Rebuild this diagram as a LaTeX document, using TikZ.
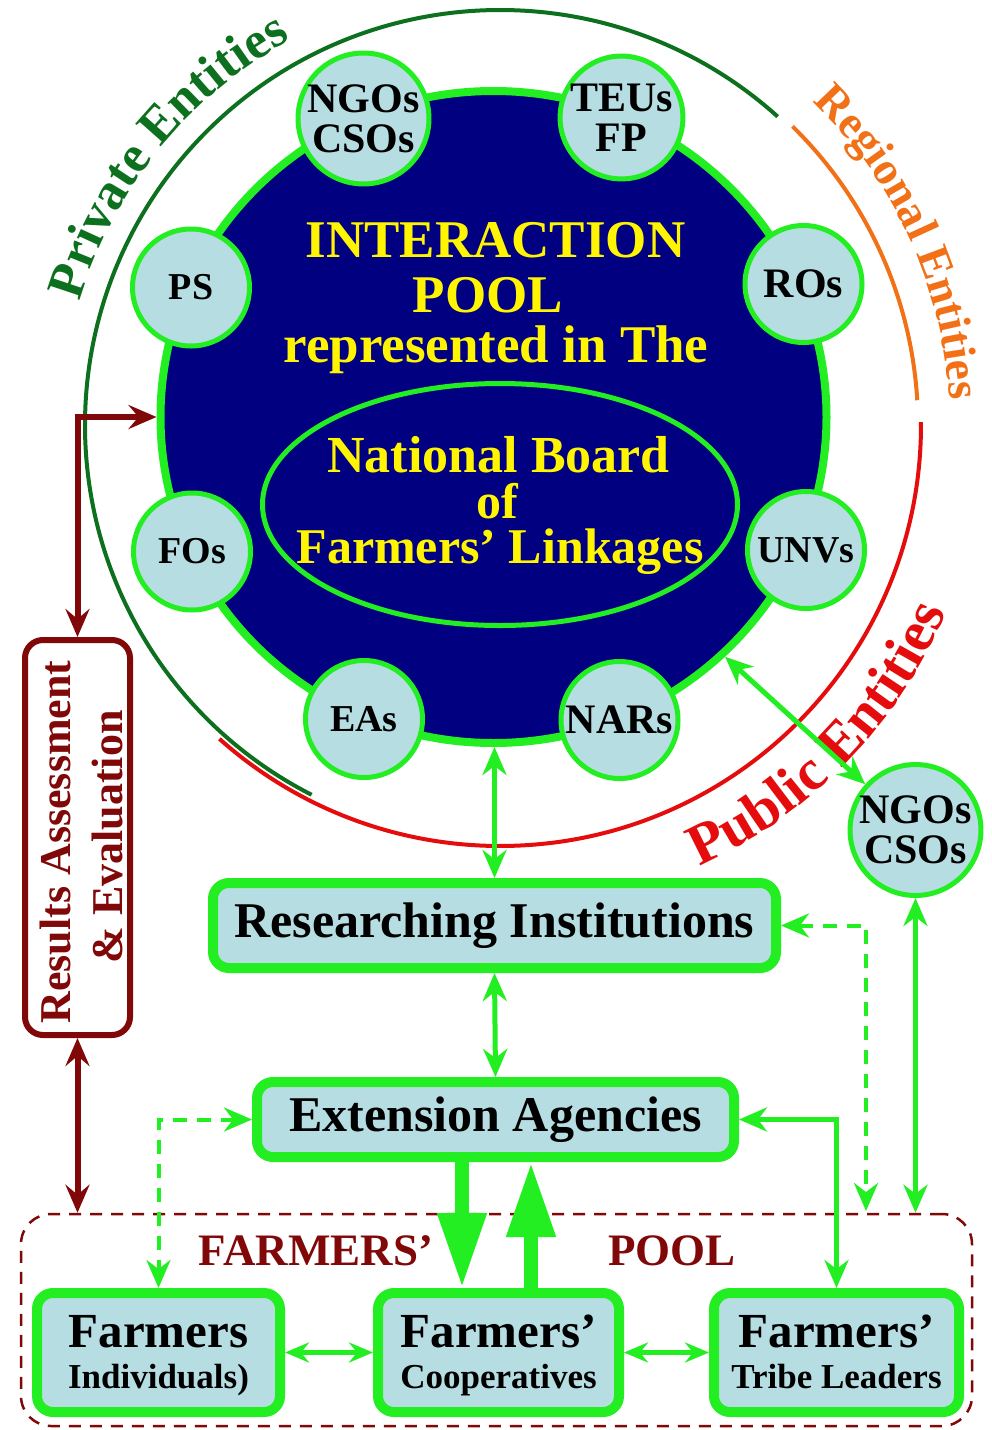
\documentclass[tikz,border=0pt]{standalone}
\usepackage{fontspec}
\setmainfont{Liberation Serif}
\usetikzlibrary{arrows.meta,decorations.text,shapes.geometric,calc}
\definecolor{navyc}{RGB}{0,0,128}
\definecolor{limeg}{RGB}{34,238,34}
\definecolor{lblue}{RGB}{182,221,226}
\definecolor{ytext}{RGB}{255,245,0}
\definecolor{dgreen}{RGB}{12,112,30}
\definecolor{orng}{RGB}{242,112,22}
\definecolor{redc}{RGB}{228,12,12}
\definecolor{maroonc}{RGB}{128,8,8}
\begin{document}
\begin{tikzpicture}[x=1pt,y=-1pt,
  ent/.style={circle, draw=limeg, line width=5pt, fill=lblue, minimum size=117pt, inner sep=0pt, align=center, text=black, font=\fontsize{42}{40}\selectfont\bfseries},
  entsm/.style={ent, font=\fontsize{38}{38}\selectfont\bfseries},
  gbox/.style={rectangle, rounded corners=16pt, draw=limeg, line width=10pt, fill=lblue, inner sep=0pt},
  ytxt/.style={text=ytext, font=\fontsize{53}{53}\selectfont\bfseries, inner sep=0pt, anchor=base},
  btxt/.style={text=black, font=\fontsize{50}{50}\selectfont\bfseries, inner sep=0pt},
  bigf/.style={text=black, font=\fontsize{49}{49}\selectfont\bfseries, inner sep=0pt, anchor=base},
  smallf/.style={text=black, font=\fontsize{35}{35}\selectfont\bfseries, inner sep=0pt, anchor=base},
  mtxt/.style={text=maroonc, font=\fontsize{45}{45}\selectfont\bfseries, inner sep=0pt, anchor=base},
  garrow/.style={draw=limeg, line width=5pt, >={Stealth[length=28pt,width=24pt,inset=9pt]}},
  gdash/.style={garrow, line width=4pt, dash pattern=on 14pt off 10pt},
  marrow/.style={draw=maroonc, line width=6pt, >={Stealth[length=28pt,width=24pt,inset=10pt]}},
  bigarrow/.style={draw=limeg, line width=14pt, -{Triangle[length=75pt,width=46pt]}}
]
\useasboundingbox (0,0) rectangle (991,1430);

% ---- outer arcs ----
\coordinate (ac) at (500,425);
\draw[dgreen, line width=4pt] ($(ac)+(-48:415)$) arc[start angle=-48, end angle=-243, radius=415];
\draw[orng, line width=4pt] ($(ac)+(-45.6:418)$) arc[start angle=-45.6, end angle=-3.4, radius=418];
\draw[redc, line width=4pt] ($(ac)+(-0.4:421)$) arc[start angle=-0.4, end angle=131.8, radius=421];

% ---- curved labels ----
\path[decorate, decoration={text along path, text align=center, text color=dgreen,
  text={|\fontsize{52}{52}\selectfont\bfseries|Private Entities}}]
  ($(ac)+(-176:438)$) arc[start angle=-176, end angle=-106, radius=438];
\path[decorate, decoration={text along path, text align=center, text color=orng,
  text={|\fontsize{46}{46}\selectfont\bfseries|Regional Entities}}]
  ($(ac)+(-59.6:450)$) arc[start angle=-59.6, end angle=10.4, radius=450];
\path[decorate, decoration={text along path, text align=center, text color=redc,
  text={|\fontsize{58}{58}\selectfont\bfseries|Public Entities}}]
  ($(ac)+(79.2:484)$) arc[start angle=79.2, end angle=9.2, radius=484];

% ---- interaction pool ----
\node[ellipse, draw=limeg, line width=8pt, fill=navyc, minimum width=666pt, minimum height=652pt, inner sep=0pt] (pool) at (493.5,417) {};
\node[ellipse, draw=limeg, line width=5pt, minimum width=475pt, minimum height=242pt, inner sep=0pt] (board) at (500,504.5) {};
\node[ytxt] (t1) at (495.5,257) {INTERACTION};
\node[ytxt] (t2) at (488,312) {POOL};
\node[ytxt] (t3) at (496,362) {represented in The};
\node[ytxt, font=\fontsize{52}{52}\selectfont\bfseries] (t4) at (498.5,472) {National Board};
\node[ytxt, font=\fontsize{50}{50}\selectfont\bfseries] (t5) at (497,518) {of};
\node[ytxt, font=\fontsize{50}{50}\selectfont\bfseries] (t6) at (500,563) {Farmers’ Linkages};

% ---- entity circles ----
\node[ent] (ngo1) at (363.5,118.5) {NGOs\\CSOs};
\node[ent] (teu) at (621.5,117.5) {TEUs\\FP};
\node[entsm] (ps) at (191,287.5) {PS};
\node[ent] (ros) at (803.5,284) {ROs};
\node[entsm] (fos) at (192,551.5) {FOs};
\node[entsm] (unv) at (806,550) {UNVs};
\node[entsm] (eas) at (364,719) {EAs};
\node[ent] (nar) at (619.5,720) {NARs};
\node[ent] (ngo2) at (915.5,830) {NGOs\\CSOs};

% ---- results box ----
\node[rectangle, rounded corners=18pt, draw=maroonc, line width=6pt, minimum width=105pt, minimum height=395pt, inner sep=0pt] (rbox) at (77.5,837.5) {};
\node[text=maroonc, font=\fontsize{44}{44}\selectfont\bfseries, rotate=90, anchor=base, inner sep=0pt] (r1) at (70,842) {Results Assessment};
\node[text=maroonc, font=\fontsize{44}{44}\selectfont\bfseries, rotate=90, anchor=base, inner sep=0pt] (r2) at (122,837) {\& Evaluation};

% ---- farmers' pool ----
\node[rectangle, rounded corners=30pt, draw=maroonc, line width=2.5pt, dash pattern=on 12pt off 9pt, minimum width=951pt, minimum height=212pt, inner sep=0pt] (fpool) at (496.5,1320) {};
\node[mtxt] (fp1) at (316,1265) {FARMERS’};
\node[mtxt] (fp2) at (672,1265) {POOL};

% ---- boxes ----
\node[gbox, minimum width=563pt, minimum height=85pt, btxt] (res) at (494.5,925.5) {Researching Institutions};
\node[gbox, minimum width=477pt, minimum height=75pt, btxt] (ext) at (495.5,1119.5) {Extension Agencies};
\node[gbox, minimum width=243pt, minimum height=119pt] (indiv) at (158.5,1352.5) {};
\node[gbox, minimum width=241pt, minimum height=119pt] (coop) at (498.5,1352.5) {};
\node[gbox, minimum width=245pt, minimum height=119pt] (tribe) at (836.5,1352.5) {};
\node[bigf] (f1) at (158.5,1347) {Farmers};
\node[smallf] (f1b) at (158.5,1388) {Individuals)};
\node[bigf] (f2) at (498.5,1347) {Farmers’};
\node[smallf] (f2b) at (498.5,1388) {Cooperatives};
\node[bigf] (f3) at (836.5,1347) {Farmers’};
\node[smallf] (f3b) at (836.5,1388) {Tribe Leaders};

% ---- connectors ----
\draw[garrow, <->] (res.north |- pool.south) -- (res.north);
\draw[garrow, <->] (res.south) -- (ext.north);
\draw[garrow, <->] (pool.-46) -- (ngo2);
\draw[garrow, <->] (ngo2.south) -- (ngo2.south |- fpool.north);
\coordinate (dn) at (866,1211);
\draw[gdash, <->] (res.east) -| (dn);
\draw[gdash, <->] (ext.west) -| (indiv.north);
\draw[garrow, <->] (ext.east) -| (tribe.north);
\draw[garrow, <->, >={Stealth[length=24pt,width=20pt,inset=8pt]}] (indiv.east) -- (coop.west);
\draw[garrow, <->, >={Stealth[length=24pt,width=20pt,inset=8pt]}] (coop.east) -- (tribe.west);
\draw[bigarrow] ([xshift=-33.5pt]ext.south) -- ([xshift=-36.5pt]coop.north);
\draw[bigarrow] ([xshift=32.5pt]coop.north) -- ([xshift=35.5pt]ext.south);
\draw[marrow, <->] (rbox.north) |- (pool.west);
\draw[marrow, <->] (rbox.south) -- (rbox.south |- fpool.north);
\end{tikzpicture}
\end{document}
